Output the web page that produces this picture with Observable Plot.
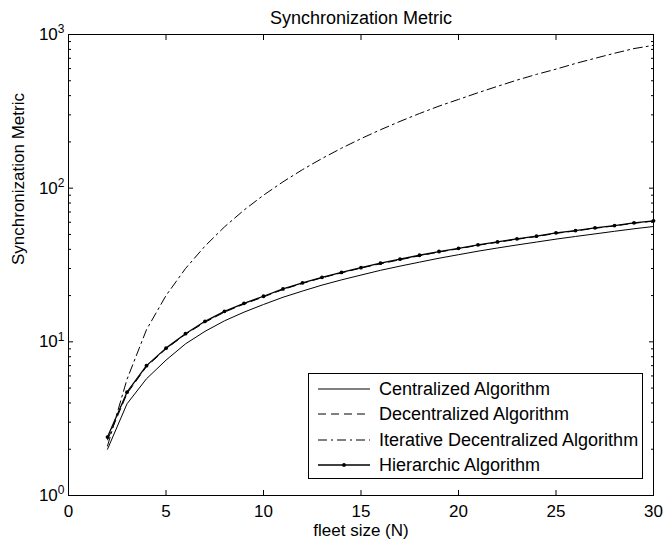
<!DOCTYPE html>
<html><head><meta charset="utf-8">
<script src="https://cdn.jsdelivr.net/npm/d3@7"></script>
<script src="https://cdn.jsdelivr.net/npm/@observablehq/plot@0.6"></script>
<style>
body{margin:0;background:#fff;font-family:"Liberation Sans",Arial,Helvetica,sans-serif;}
#wrap{position:relative;width:668px;height:548px;}
#legend{position:absolute;left:308px;top:373px;width:335px;height:106px;border:1px solid #000;background:#fff;box-sizing:border-box;}
.row{position:absolute;left:0;height:20px;width:330px;font-size:18px;color:#000;}
.row svg{position:absolute;left:9px;top:0;}
.row span{position:absolute;left:70px;top:0;line-height:20px;white-space:nowrap;}
</style></head>
<body><div id="wrap"></div>
<script>
const fleetSize = [2,3,4,5,6,7,8,9,10,11,12,13,14,15,16,17,18,19,20,21,22,23,24,25,26,27,28,29,30];
const centralized = [2.0,3.95,5.75,7.6,9.7,11.7,13.7,15.6,17.5,19.5,21.4,23.4,25.3,27.2,29.2,31.1,33.0,35.0,36.9,38.9,40.8,42.7,44.6,46.6,48.5,50.4,52.4,54.4,56.3];
const decentralized = [2.3,4.6,6.9,9.0,11.2,13.4,15.6,17.6,19.6,21.9,24.0,26.1,28.1,30.2,32.2,34.2,36.3,38.4,40.3,42.5,44.4,46.5,48.4,50.8,52.7,54.8,56.8,59.1,61.0];
const iterative = [2.1,5.7,12,20,30,42,56,72,90,110,132,156,182,210,240,272,306,342,378,418,460,505,550,595,648,700,755,810,850];
const hierarchic = [2.4,4.7,7.0,9.1,11.3,13.6,15.8,17.8,19.8,22.1,24.2,26.3,28.3,30.4,32.5,34.5,36.6,38.7,40.6,42.8,44.7,46.8,48.7,51.2,53.0,55.2,57.1,59.5,61.3];
const seriesNames = ["Centralized Algorithm","Decentralized Algorithm","Iterative Decentralized Algorithm","Hierarchic Algorithm"];
const xTicks = [0,5,10,15,20,25,30];
const yMajorTicks = [1,10,100,1000];
const yMinorTicks = [2,3,4,5,6,7,8,9,20,30,40,50,60,70,80,90,200,300,400,500,600,700,800,900];
const titleText = "Synchronization Metric";
const xLabelText = "fleet size (N)";
const yLabelText = "Synchronization Metric";

const toRows = (vals) => fleetSize.map((n, i) => ({n, v: vals[i]}));
const cRows = toRows(centralized), dRows = toRows(decentralized), iRows = toRows(iterative), hRows = toRows(hierarchic);

const font = '"Liberation Sans", Arial, Helvetica, sans-serif';
const plot = Plot.plot({
  width: 668, height: 548,
  marginLeft: 68, marginRight: 15, marginTop: 34, marginBottom: 53,
  style: {fontFamily: font, fontSize: "17px", background: "#fff", color: "#000"},
  x: {domain: [0, 30], label: null},
  y: {type: "log", domain: [1, 1000], label: null},
  marks: [
    Plot.frame({stroke: "#000", strokeWidth: 1}),
    Plot.axisX({anchor: "bottom", ticks: xTicks, tickSize: -5, tickPadding: 14, tickFormat: d => String(d), label: null}),
    Plot.axisX({anchor: "top", ticks: xTicks, tickSize: -5, tickFormat: () => "", label: null}),
    Plot.axisY({anchor: "left", ticks: yMajorTicks, tickSize: -5, tickPadding: 9, tickFormat: d => "10^" + Math.round(Math.log10(d)), label: null}),
    Plot.axisY({anchor: "left", ticks: yMinorTicks, tickSize: -3, tickFormat: () => "", label: null}),
    Plot.axisY({anchor: "right", ticks: yMajorTicks, tickSize: -5, tickFormat: () => "", label: null}),
    Plot.axisY({anchor: "right", ticks: yMinorTicks, tickSize: -3, tickFormat: () => "", label: null}),
    Plot.lineY(cRows, {x: "n", y: "v", stroke: "#000", strokeWidth: 1}),
    Plot.lineY(dRows, {x: "n", y: "v", stroke: "#000", strokeWidth: 1, strokeDasharray: "8,5"}),
    Plot.lineY(iRows, {x: "n", y: "v", stroke: "#000", strokeWidth: 1, strokeDasharray: "9,4,2,4"}),
    Plot.lineY(hRows, {x: "n", y: "v", stroke: "#000", strokeWidth: 1.3}),
    Plot.dot(hRows, {x: "n", y: "v", r: 1.9, fill: "#000", stroke: null}),
    Plot.text([titleText], {frameAnchor: "top", dy: -23, text: d => d, fontSize: 18, fill: "#000"}),
    Plot.text([xLabelText], {frameAnchor: "bottom", dy: 40, text: d => d, fontSize: 17, fill: "#000"}),
    Plot.text([yLabelText], {frameAnchor: "left", dx: -50, rotate: -90, text: d => d, fontSize: 17, fill: "#000"})
  ]
});

// render exponents as superscripts
plot.querySelectorAll("text").forEach(t => {
  const m = /^10\^(\d+)$/.exec(t.textContent);
  if (m) {
    t.textContent = "10";
    const sup = document.createElementNS("http://www.w3.org/2000/svg", "tspan");
    sup.setAttribute("dy", "-0.55em");
    sup.setAttribute("font-size", "12px");
    sup.textContent = m[1];
    t.appendChild(sup);
  }
});

const wrap = document.getElementById("wrap");
wrap.appendChild(plot);

// legend
const legend = document.createElement("div");
legend.id = "legend";
const styles = [
  {dash: null, dot: false, w: 1},
  {dash: "8,5", dot: false, w: 1},
  {dash: "9,4,2,4", dot: false, w: 1},
  {dash: null, dot: true, w: 1.3}
];
const rowCenters = [15, 40, 66, 91];
seriesNames.forEach((name, i) => {
  const row = document.createElement("div");
  row.className = "row";
  row.style.top = (rowCenters[i] - 10) + "px";
  const s = styles[i];
  row.innerHTML = `<svg width="52" height="20"><line x1="0" y1="10" x2="52" y2="10" stroke="#000" stroke-width="${s.w}" ${s.dash ? `stroke-dasharray="${s.dash}"` : ""}/>${s.dot ? '<circle cx="26" cy="10" r="1.9" fill="#000"/>' : ""}</svg><span>${name}</span>`;
  legend.appendChild(row);
});
wrap.appendChild(legend);
</script>
</body></html>
